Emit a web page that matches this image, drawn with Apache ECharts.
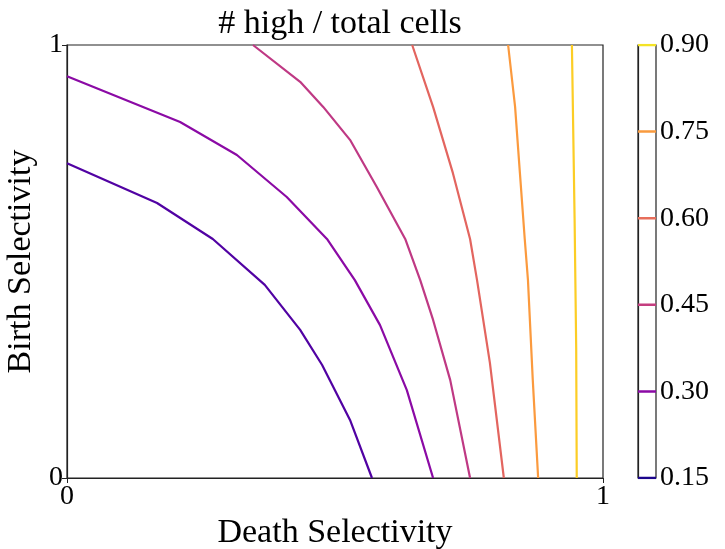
<!DOCTYPE html>
<html>
<head>
<meta charset="utf-8">
<script src="https://cdn.jsdelivr.net/npm/echarts@6/dist/echarts.min.js"></script>
<style>
  html, body { margin: 0; padding: 0; background: #fff; }
  #chart { width: 725px; height: 549px; }
</style>
</head>
<body>
<div id="chart"></div>
<script>
// contour levels, shown on the colorbar
const levels = [0.15, 0.30, 0.45, 0.60, 0.75, 0.90]
const levelColors = ['#5102a3', '#8b0aa5', '#bf3984', '#e3655f', '#fb9a3e', '#fccd25']
const colorbarColors = ['#1c068c', '#8b0aa5', '#c43e7f', '#e76e5b', '#f99a3e', '#f4e326']

// contour paths [death, birth]
const line015 = [[0, 0.727], [0.168, 0.635], [0.272, 0.552], [0.369, 0.446], [0.435, 0.342], [0.476, 0.261], [0.528, 0.134], [0.569, 0]]
const line030 = [[0, 0.928], [0.211, 0.822], [0.317, 0.746], [0.410, 0.649], [0.485, 0.552], [0.537, 0.457], [0.584, 0.353], [0.634, 0.203], [0.683, 0]]
const line045 = [[0.347, 1], [0.435, 0.915], [0.478, 0.857], [0.528, 0.781], [0.578, 0.672], [0.631, 0.552], [0.659, 0.457], [0.683, 0.365], [0.715, 0.226], [0.752, 0]]
const line060 = [[0.644, 1], [0.683, 0.857], [0.720, 0.704], [0.752, 0.552], [0.765, 0.457], [0.789, 0.266], [0.815, 0]]
const line075 = [[0.823, 1], [0.836, 0.857], [0.845, 0.704], [0.854, 0.552], [0.860, 0.457], [0.869, 0.226], [0.879, 0]]
const line090 = [[0.942, 1], [0.947, 0.6], [0.950, 0.3], [0.951, 0]]
const contourLines = [line015, line030, line045, line060, line075, line090]

const font = 'Liberation Serif'

const chart = echarts.init(document.getElementById('chart'))

const series = contourLines.map((pts, i) => ({
  type: 'line',
  xAxisIndex: 0,
  yAxisIndex: 0,
  data: pts,
  showSymbol: false,
  symbol: 'none',
  lineStyle: { color: levelColors[i], width: 2.2 },
  silent: true,
  z: 3
}))

// colorbar lines
levels.forEach((lv, i) => {
  series.push({
    type: 'line',
    xAxisIndex: 1,
    yAxisIndex: 1,
    data: [[0, lv], [1, lv]],
    showSymbol: false,
    symbol: 'none',
    lineStyle: { color: colorbarColors[i], width: 2.5 },
    silent: true,
    z: 1
  })
})

const option = {
  animation: false,
  backgroundColor: '#fff',
  title: {
    text: '# high / total cells',
    left: 335,
    textAlign: 'center',
    top: 2,
    textStyle: { fontFamily: font, fontSize: 34, fontWeight: 'normal', color: '#000' }
  },
  grid: [
    { left: 67, right: 122, top: 45, bottom: 71, outerBoundsMode: 'none', show: true, borderColor: '#222', borderWidth: 1.2, backgroundColor: 'transparent' },
    { left: 638, width: 18, top: 45, bottom: 71, outerBoundsMode: 'none', show: true, borderColor: '#222', borderWidth: 1.2, backgroundColor: 'transparent' }
  ],
  xAxis: [
    {
      type: 'value', gridIndex: 0, min: 0, max: 1, interval: 1,
      name: 'Death Selectivity', nameLocation: 'middle', nameGap: 36,
      nameTextStyle: { fontFamily: font, fontSize: 34, color: '#000' },
      axisLine: { show: true, lineStyle: { color: '#222', width: 1.2 } },
      axisTick: { show: true, length: 5, lineStyle: { color: '#222' } },
      axisLabel: { fontFamily: font, fontSize: 28, color: '#000', margin: 5 },
      splitLine: { show: false }
    },
    {
      type: 'value', gridIndex: 1, min: 0, max: 1,
      show: false
    }
  ],
  yAxis: [
    {
      type: 'value', gridIndex: 0, min: 0, max: 1, interval: 1,
      name: 'Birth Selectivity', nameLocation: 'middle', nameGap: 22,
      nameTextStyle: { fontFamily: font, fontSize: 34, color: '#000' },
      axisLine: { show: true, lineStyle: { color: '#222', width: 1.2 } },
      axisTick: { show: true, length: 5, lineStyle: { color: '#222' } },
      axisLabel: { fontFamily: font, fontSize: 28, color: '#000', margin: 4 },
      splitLine: { show: false }
    },
    {
      type: 'value', gridIndex: 1, position: 'right', min: 0.15, max: 0.90, interval: 0.15,
      axisLine: { show: true, lineStyle: { color: '#222', width: 1.2 } },
      axisTick: { show: true, length: 5, lineStyle: { color: '#222' } },
      axisLabel: {
        fontFamily: font, fontSize: 28, color: '#000', margin: 4,
        formatter: v => v.toFixed(2)
      },
      splitLine: { show: false }
    }
  ],
  series: series
}

chart.setOption(option)
</script>
</body>
</html>
